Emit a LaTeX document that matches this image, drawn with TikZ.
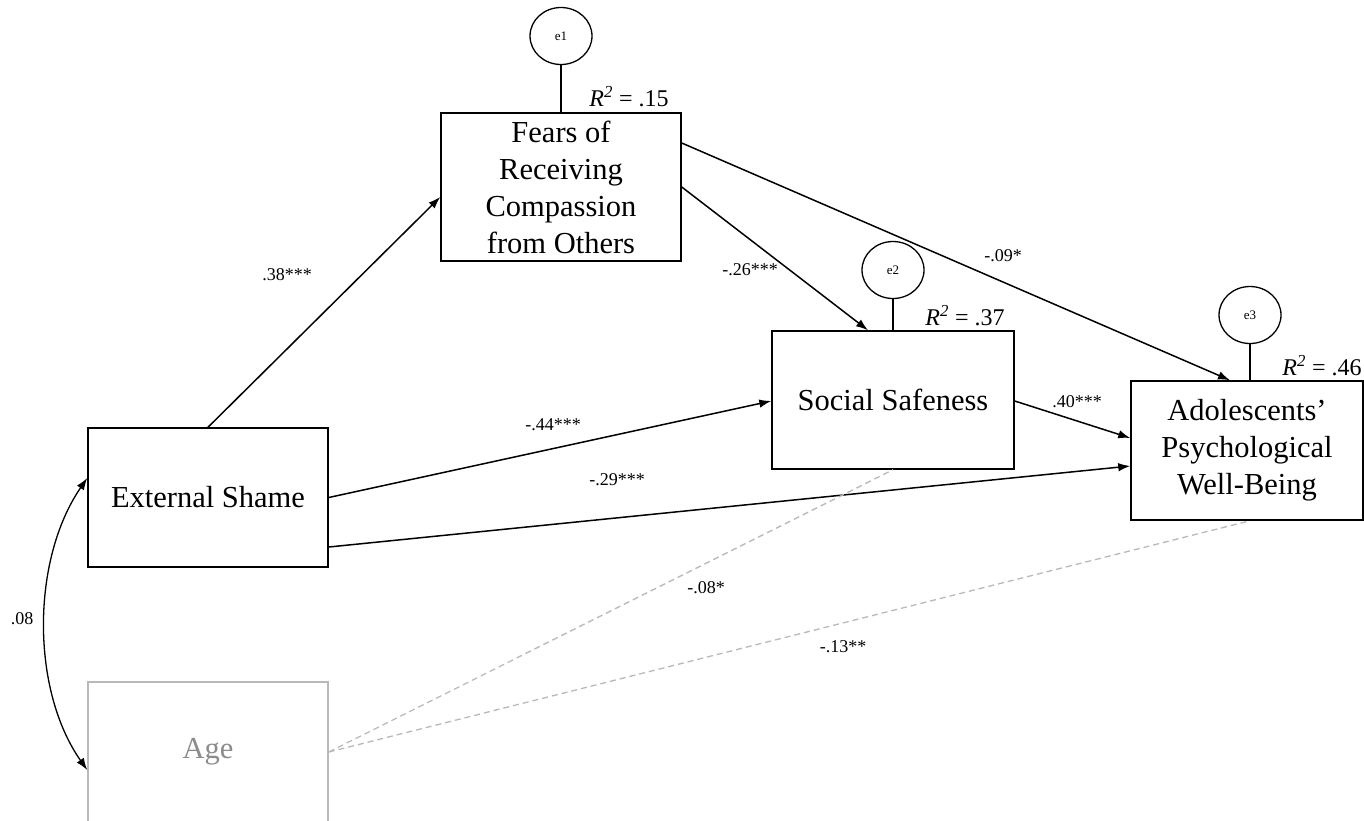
\documentclass[tikz,border=0pt]{standalone}
\usepackage{fontspec}
\setmainfont{Liberation Serif}
\usetikzlibrary{arrows.meta,shapes.geometric}
\definecolor{agegray}{RGB}{140,140,140}
\definecolor{ageline}{RGB}{185,185,185}
\begin{document}
\begin{tikzpicture}[x=1pt,y=-1pt,
  box/.style={draw,line width=1.5pt,inner sep=0pt,align=center,font=\fontsize{30.5}{37}\selectfont},
  err/.style={draw,ellipse,line width=1.3pt,minimum width=62pt,minimum height=57pt,inner sep=0pt,font=\fontsize{13}{15}\selectfont},
  path/.style={line width=1.5pt,-{Latex[length=12pt,width=8.5pt]}},
  ctl/.style={line width=1.3pt,ageline,dash pattern=on 6pt off 4pt},
  coef/.style={font=\fontsize{18}{20}\selectfont,inner sep=0pt},
  rsq/.style={font=\fontsize{24}{26}\selectfont,inner sep=0pt}]
\useasboundingbox[fill=white] (0,0) rectangle (1364,820);
% boxes
\node[box,minimum width=240pt,minimum height=139pt] (es) at (208,497.5) {External Shame};
\node[box,draw=ageline,text=agegray,minimum width=240pt,minimum height=140pt] (age) at (208,752) {Age};
\node[box,minimum width=240pt,minimum height=148pt] (fr) at (561,187) {Fears of\\Receiving\\Compassion\\from Others};
\node[box,minimum width=242pt,minimum height=138pt] (ss) at (893,400) {Social Safeness};
\node[box,minimum width=232pt,minimum height=139pt] (ad) at (1247,450.5) {Adolescents’\\Psychological\\Well-Being};
% error terms
\node[err] (e1) at (561,36) {e1};
\node[err] (e2) at (893,270) {e2};
\node[err] (e3) at (1250,315) {e3};
\draw[line width=1.3pt] (e1.south) -- (fr.north);
\draw[line width=1.3pt] (e2.south) -- (ss.north);
\draw[line width=1.3pt] (e3.south) -- ([xshift=3pt]ad.north);
% R squared
\node[rsq] (r1) at (629,97) {\textit{R}\textsuperscript{\textit{2}} = .15};
\node[rsq] (r2) at (965,316) {\textit{R}\textsuperscript{\textit{2}} = .37};
\node[rsq] (r3) at (1322,366) {\textit{R}\textsuperscript{\textit{2}} = .46};
% paths
\draw[path] (es.north) -- ([yshift=-10pt]fr.west);
\draw[path] (es.east) -- ([yshift=-1pt]ss.west);
\draw[path] ([yshift=-49.5pt]es.east) -- ([yshift=-15.5pt]ad.west);
\draw[path] (fr.east) -- ([xshift=-25pt]ss.north);
\draw[path] ([yshift=44pt]fr.east) -- ([xshift=-17pt]ad.north);
\draw[path] ([yshift=-1pt]ss.east) -- ([yshift=12.5pt]ad.west);
\draw[ctl] (age.east) -- (ss.south);
\draw[ctl] (age.east) -- ([xshift=3pt]ad.south);
\draw[line width=1.3pt,{Latex[length=12pt,width=8.5pt]}-{Latex[length=12pt,width=8.5pt]}]
  ([yshift=19.5pt]es.west) .. controls (31,560) and (31,690) .. ([yshift=-18pt]age.west);
% coefficients
\node[coef] (c1) at (287,275) {.38***};
\node[coef] (c2) at (553,425) {-.44***};
\node[coef] (c3) at (617,480) {-.29***};
\node[coef] (c4) at (750,270) {-.26***};
\node[coef] (c5) at (1003,256) {-.09*};
\node[coef] (c6) at (1077,402) {.40***};
\node[coef] (c7) at (706,588) {-.08*};
\node[coef] (c8) at (843,647) {-.13**};
\node[coef] (c9) at (22,619) {.08};
\end{tikzpicture}
\end{document}
